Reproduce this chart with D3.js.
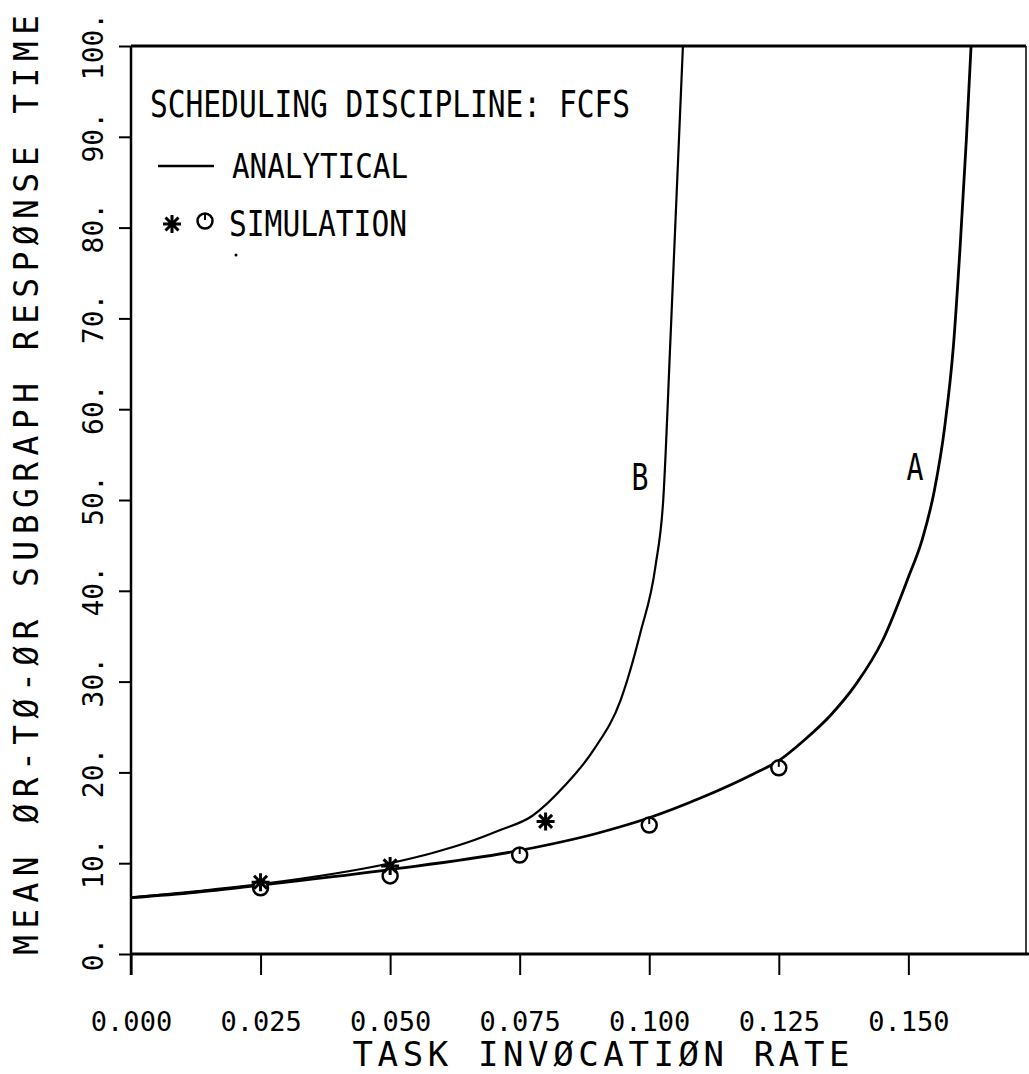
<!DOCTYPE html>
<html>
<head>
<meta charset="utf-8">
<script src="https://cdn.jsdelivr.net/npm/d3@7"></script>
<style>
  body { margin: 0; background: #fff; }
  svg { display: block; }
  text { font-family: "DejaVu Sans Mono", monospace; fill: #000; }
</style>
</head>
<body>
<div id="content"></div>
<script>
// tick values
var xTicks = [0, 0.025, 0.05, 0.075, 0.1, 0.125, 0.15];
var yTicks = [0, 10, 20, 30, 40, 50, 60, 70, 80, 90, 100];

// analytical curve A
var curveARate = [0, 0.0125, 0.025, 0.05, 0.075, 0.09, 0.1, 0.11, 0.12, 0.125, 0.13, 0.135, 0.14, 0.145, 0.15, 0.1527, 0.155, 0.157, 0.1587, 0.16, 0.1612, 0.1621];
var curveATime = [6.2, 6.8, 7.6, 9.3, 11.4, 13.3, 15.0, 17.2, 19.8, 21.3, 23.6, 26.3, 29.8, 34.5, 41.5, 45.7, 51.0, 58.0, 67.0, 78.0, 89.8, 100];

// analytical curve B
var curveBRate = [0, 0.0125, 0.025, 0.05, 0.058, 0.065, 0.071, 0.0774, 0.0838, 0.0893, 0.0945, 0.0983, 0.1012, 0.1027, 0.1041, 0.1065];
var curveBTime = [6.2, 6.9, 7.7, 10.0, 11.1, 12.3, 13.6, 15.2, 18.6, 22.5, 28.0, 35.4, 42.7, 50.0, 67.8, 100];

// simulation points
var simCircleRate = [0.025, 0.05, 0.075, 0.1, 0.125];
var simCircleTime = [7.3, 8.6, 10.9, 14.2, 20.5];
var simStarRate = [0.025, 0.05, 0.08];
var simStarTime = [7.9, 9.7, 14.6];

var W = 1029, H = 1074;
var margin = {left: 131, right: 1026, top: 46, bottom: 954};

var x = d3.scaleLinear().domain([0, 0.1727]).range([margin.left, margin.right]);
var y = d3.scaleLinear().domain([0, 100]).range([margin.bottom, margin.top]);

var svg = d3.select("#content").append("svg")
  .attr("width", W)
  .attr("height", H);

svg.append("defs").append("clipPath").attr("id", "plot")
  .append("rect")
  .attr("x", margin.left).attr("y", margin.top - 2)
  .attr("width", margin.right - margin.left)
  .attr("height", margin.bottom - margin.top + 2);

// frame: top + right
svg.append("line")
  .attr("x1", margin.left).attr("x2", margin.right)
  .attr("y1", y(100)).attr("y2", y(100))
  .attr("stroke", "#000").attr("stroke-width", 3);
svg.append("line")
  .attr("x1", margin.right).attr("x2", margin.right)
  .attr("y1", y(100)).attr("y2", margin.bottom)
  .attr("stroke", "#000").attr("stroke-width", 1.5);

// x axis
var xAxis = svg.append("g")
  .attr("transform", "translate(0," + margin.bottom + ")")
  .call(d3.axisBottom(x).tickValues(xTicks).tickSize(21).tickSizeOuter(0)
    .tickFormat(d3.format(".3f")));
xAxis.select(".domain").attr("stroke-width", 3).attr("d", "M" + margin.left + ",0H" + W);
xAxis.selectAll(".tick line").attr("stroke-width", 2);
xAxis.selectAll(".tick text")
  .attr("y", 77).attr("dy", 0)
  .style("font-size", "27px")
  .style("font-family", "DejaVu Sans Mono");

// y axis
var yAxis = svg.append("g")
  .attr("transform", "translate(" + margin.left + ",0)")
  .call(d3.axisLeft(y).tickValues(yTicks).tickSize(12).tickSizeOuter(0)
    .tickFormat(function(d) { return d + "."; }));
yAxis.select(".domain").attr("stroke-width", 2.5)
  .attr("d", "M0," + margin.top + "V" + (margin.bottom + 21));
yAxis.selectAll(".tick line").attr("stroke-width", 2);
yAxis.selectAll(".tick text")
  .attr("transform", "rotate(-90)")
  .attr("text-anchor", "middle")
  .attr("x", 0).attr("y", -28).attr("dy", 0)
  .style("font-size", "28px")
  .style("font-family", "DejaVu Sans Mono");

// axis titles
svg.append("text")
  .attr("x", 601).attr("y", 1066)
  .attr("text-anchor", "middle")
  .attr("textLength", 497).attr("lengthAdjust", "spacing")
  .style("font-size", "34px")
  .text("TASK INVØCATIØN RATE");

svg.append("text")
  .attr("transform", "translate(38,485) rotate(-90)")
  .attr("text-anchor", "middle")
  .attr("textLength", 940).attr("lengthAdjust", "spacing")
  .style("font-size", "33px")
  .text("MEAN ØR-TØ-ØR SUBGRAPH RESPØNSE TIME");

// curves
var line = d3.line()
  .curve(d3.curveMonotoneX)
  .x(function(d) { return x(d[0]); })
  .y(function(d) { return y(d[1]); });

var curveA = curveARate.map(function(r, i) { return [r, curveATime[i]]; });
var curveB = curveBRate.map(function(r, i) { return [r, curveBTime[i]]; });

var plot = svg.append("g").attr("clip-path", "url(#plot)");
plot.append("path").datum(curveA)
  .attr("fill", "none").attr("stroke", "#000").attr("stroke-width", 2.8)
  .attr("d", line);
plot.append("path").datum(curveB)
  .attr("fill", "none").attr("stroke", "#000").attr("stroke-width", 2.2)
  .attr("d", line);

// markers
function drawCircleMark(g) {
  g.append("circle").attr("r", 7.5)
    .attr("fill", "#fff").attr("stroke", "#000").attr("stroke-width", 2.5);
  g.append("line").attr("x1", 0).attr("x2", 0).attr("y1", -7.5).attr("y2", -1)
    .attr("stroke", "#000").attr("stroke-width", 2);
}
var starPath = "M-9,0H9M0,-9V9M-6.5,-6.5L6.5,6.5M-6.5,6.5L6.5,-6.5";
function drawStar(g) {
  g.append("path").attr("d", starPath)
    .attr("stroke", "#000").attr("stroke-width", 3).attr("fill", "none");
}

simCircleRate.forEach(function(r, i) {
  var g = svg.append("g").attr("transform", "translate(" + x(r) + "," + y(simCircleTime[i]) + ")");
  drawCircleMark(g);
});
simStarRate.forEach(function(r, i) {
  var g = svg.append("g").attr("transform", "translate(" + x(r) + "," + y(simStarTime[i]) + ")");
  drawStar(g);
});

// curve labels
svg.append("text").attr("x", 640).attr("y", 490).attr("text-anchor", "middle")
  .attr("textLength", 17).attr("lengthAdjust", "spacingAndGlyphs")
  .style("font-size", "38px").text("B");
svg.append("text").attr("x", 915).attr("y", 480).attr("text-anchor", "middle")
  .attr("textLength", 17).attr("lengthAdjust", "spacingAndGlyphs")
  .style("font-size", "38px").text("A");

// legend
svg.append("text").attr("x", 150).attr("y", 117)
  .attr("textLength", 480).attr("lengthAdjust", "spacingAndGlyphs")
  .style("font-size", "37px").text("SCHEDULING DISCIPLINE: FCFS");
svg.append("line").attr("x1", 158).attr("x2", 214).attr("y1", 166).attr("y2", 166)
  .attr("stroke", "#000").attr("stroke-width", 2.5);
svg.append("text").attr("x", 232).attr("y", 178)
  .attr("textLength", 176).attr("lengthAdjust", "spacingAndGlyphs")
  .style("font-size", "33px").text("ANALYTICAL");
drawStar(svg.append("g").attr("transform", "translate(172,224)"));
drawCircleMark(svg.append("g").attr("transform", "translate(205,221)"));
svg.append("text").attr("x", 229).attr("y", 236)
  .attr("textLength", 178).attr("lengthAdjust", "spacingAndGlyphs")
  .style("font-size", "35px").text("SIMULATION");
svg.append("circle").attr("cx", 236).attr("cy", 255).attr("r", 1.5).attr("fill", "#000");
</script>
</body>
</html>
